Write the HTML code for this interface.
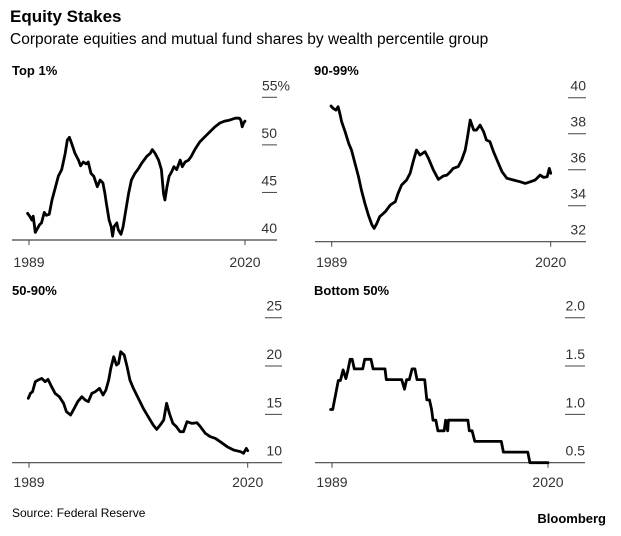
<!DOCTYPE html>
<html><head><meta charset="utf-8">
<style>
html,body{margin:0;padding:0;background:#fff;}
svg{display:block;font-family:"Liberation Sans",sans-serif;}
</style></head>
<body>
<svg id="chart" width="621" height="536" viewBox="0 0 621 536">
<text x="10" y="22" font-size="17" font-weight="bold" fill="#000">Equity Stakes</text>
<text x="10" y="44" font-size="15.5" fill="#000">Corporate equities and mutual fund shares by wealth percentile group</text>
<text x="12" y="517" font-size="12" fill="#000">Source: Federal Reserve</text>
<text x="606" y="523" font-size="13" font-weight="bold" text-anchor="end" fill="#000">Bloomberg</text>
</svg>
<script>
const top1Years=[1988.8,1989.1,1989.4,1989.6,1989.9,1990.2,1990.5,1990.8,1991.2,1991.5,1991.9,1992.3,1992.7,1993.2,1993.7,1994.2,1994.5,1994.8,1995.1,1995.6,1996.1,1996.4,1996.8,1997.2,1997.5,1997.9,1998.3,1998.8,1999.2,1999.6,1999.9,2000.1,2000.5,2000.8,2001.0,2001.2,2001.6,2001.8,2002.2,2002.5,2002.9,2003.3,2003.7,2004.2,2004.7,2005.2,2005.5,2005.9,2006.4,2006.7,2007.1,2007.6,2008.0,2008.3,2008.5,2008.8,2009.1,2009.5,2009.8,2010.2,2010.7,2011.0,2011.4,2011.9,2012.3,2012.8,2013.5,2014.3,2015.0,2015.7,2016.4,2017.1,2017.8,2018.6,2019.2,2019.4,2019.6,2019.8,2020.0];
const top1Values=[42.8,42.5,42.1,42.5,40.8,41.2,41.6,41.8,42.9,42.6,42.7,44.2,45.3,46.7,47.4,49.1,50.5,50.8,50.2,49.1,48.4,47.8,48.2,48.0,48.2,47.0,46.7,45.6,46.3,46.0,44.9,43.9,42.1,41.4,40.4,41.4,41.8,41.1,40.6,41.4,43.2,44.9,46.3,47.0,47.5,48.1,48.4,48.8,49.1,49.5,49.1,48.4,47.4,44.9,44.2,45.6,46.7,47.2,47.7,47.4,48.4,47.7,48.2,48.4,48.8,49.5,50.3,50.9,51.4,51.9,52.3,52.5,52.6,52.8,52.8,52.6,51.9,52.3,52.5];
const p90Years=[1988.9,1989.2,1989.6,1989.9,1990.2,1990.4,1990.9,1991.4,1991.8,1992.3,1992.8,1993.2,1993.7,1994.2,1994.7,1995.0,1995.4,1995.8,1996.6,1997.3,1998.0,1998.4,1998.9,1999.6,2000.1,2000.6,2001.0,2001.5,2002.2,2002.7,2003.4,2004.1,2004.8,2005.3,2005.8,2006.2,2006.9,2007.4,2007.9,2008.2,2008.6,2009.1,2009.5,2010.0,2010.5,2010.9,2011.4,2011.9,2012.4,2013.1,2013.8,2014.7,2015.7,2016.4,2017.1,2017.8,2018.5,2019.0,2019.5,2019.8,2020.0];
const p90Values=[39.54,39.41,39.31,39.5,39.04,38.67,38.11,37.46,37.09,36.35,35.61,34.87,34.13,33.48,32.93,32.74,33.02,33.39,33.67,34.04,34.22,34.69,35.15,35.43,35.8,36.54,37.09,36.81,37.0,36.63,35.98,35.46,35.65,35.7,35.89,36.07,36.17,36.54,37.09,37.74,38.76,38.2,38.2,38.48,38.11,37.65,37.56,37.0,36.54,35.89,35.52,35.43,35.33,35.24,35.33,35.43,35.7,35.57,35.61,36.07,35.8];
const p50Years=[1988.9,1989.2,1989.5,1989.9,1990.3,1990.8,1991.3,1991.7,1992.2,1992.7,1993.3,1993.9,1994.3,1994.9,1995.4,1995.9,1996.5,1997.0,1997.4,1997.9,1998.4,1999.0,1999.5,1999.9,2000.3,2000.6,2001.0,2001.4,2001.7,2002.0,2002.5,2002.9,2003.3,2003.8,2004.5,2005.2,2005.9,2006.6,2007.1,2007.6,2008.1,2008.5,2008.9,2009.4,2009.9,2010.4,2010.9,2011.4,2012.1,2012.8,2013.3,2014.0,2014.7,2015.4,2016.1,2017.1,2018.0,2019.0,2019.4,2019.8,2020.0];
const p50Values=[16.66,17.17,17.34,18.38,18.55,18.72,18.38,18.62,17.86,17.17,16.83,16.14,15.28,14.93,15.62,16.31,16.83,16.48,16.31,17.17,17.34,17.69,17.0,17.52,18.55,19.76,20.97,20.1,20.28,21.48,21.14,19.93,18.55,17.69,16.66,15.62,14.76,13.9,13.45,13.9,14.41,16.14,15.1,14.07,13.72,13.21,13.21,14.24,14.07,14.14,13.72,13.03,12.69,12.52,12.17,11.66,11.31,11.14,10.97,11.48,11.24];
const botYears=[1988.8,1989.1,1989.5,1989.9,1990.2,1990.6,1991.0,1991.3,1991.6,1991.9,1992.2,1993.4,1993.7,1994.6,1994.9,1996.6,1996.8,1999.0,1999.4,1999.7,2000.1,2000.5,2000.9,2001.2,2002.3,2002.6,2003.0,2003.3,2003.5,2003.9,2004.2,2005.1,2005.3,2005.6,2005.7,2008.5,2008.7,2009.1,2009.5,2013.3,2013.6,2017.1,2017.4,2020.0];
const botValues=[1.05,1.05,1.2,1.35,1.35,1.46,1.37,1.46,1.57,1.57,1.47,1.47,1.57,1.57,1.47,1.47,1.36,1.36,1.26,1.36,1.36,1.47,1.47,1.36,1.36,1.15,1.15,1.05,0.94,0.94,0.83,0.83,0.94,0.83,0.94,0.94,0.83,0.83,0.72,0.72,0.61,0.61,0.5,0.5];
const top1Ticks=["40","45","50","55%"], top1TickVals=[40,45,50,55];
const p90Ticks=["32","34","36","38","40"], p90TickVals=[32,34,36,38,40];
const p50Ticks=["10","15","20","25"], p50TickVals=[10,15,20,25];
const botTicks=["0.5","1.0","1.5","2.0"], botTickVals=[0.5,1.0,1.5,2.0];
const yearLabels=["1989","2020"], yearVals=[1989,2020];

const NS="http://www.w3.org/2000/svg";
const svg=document.getElementById('chart');
function mk(tag,attrs,parent){const e=document.createElementNS(NS,tag);for(const k in attrs)e.setAttribute(k,attrs[k]);(parent||svg).appendChild(e);return e;}

const panels=[
 {key:'top-1',title:'Top 1%',titleX:12,titleY:75,xa:29,xb:245,ymin:40,ymax:55,yb:240,yt:97.3,axL:12,axR:277,gL:262,years:top1Years,vals:top1Values,ticks:top1Ticks,tv:top1TickVals,yl:267,step:false},
 {key:'90-99',title:'90-99%',titleX:314,titleY:75,xa:331.7,xb:550.7,ymin:32,ymax:40,yb:241.7,yt:97.7,axL:315,axR:586,gL:568,years:p90Years,vals:p90Values,ticks:p90Ticks,tv:p90TickVals,yl:267,step:false},
 {key:'50-90',title:'50-90%',titleX:12,titleY:295,xa:29,xb:247.7,ymin:10,ymax:25,yb:462.7,yt:317.7,axL:12,axR:282,gL:265,years:p50Years,vals:p50Values,ticks:p50Ticks,tv:p50TickVals,yl:487,step:false},
 {key:'bottom-50',title:'Bottom 50%',titleX:314,titleY:295,xa:332,xb:548,ymin:0.5,ymax:2.0,yb:462.7,yt:317.7,axL:315,axR:585,gL:565,years:botYears,vals:botValues,ticks:botTicks,tv:botTickVals,yl:487,step:true}
];
panels.forEach(p=>{
 const g=mk('g',{});
 
 
 const xs=y=>p.xa+(y-1989)/(2020-1989)*(p.xb-p.xa);
 const ys=v=>p.yb-(v-p.ymin)/(p.ymax-p.ymin)*(p.yb-p.yt);
 const t=mk('text',{x:p.titleX,y:p.titleY,'font-size':13,'font-weight':'bold',fill:'#000'},g);
 t.textContent=p.title;
 
 
 p.tv.forEach((v,i)=>{
  const y=ys(v);
  if(i>0){const l=mk('line',{x1:p.gL,x2:p.axR,y1:y,y2:y,stroke:'#444','stroke-width':1},g);
   
   }
  const lab=p.ticks[i];
  const tx=mk('text',{x:lab.endsWith('%')?p.axR+13:p.axR,y:y-7,'font-size':14,'text-anchor':'end',fill:'#333'},g);
  tx.textContent=lab;
  
  
 });
 const ax=mk('line',{x1:p.axL,x2:p.axR,y1:p.yb,y2:p.yb,stroke:'#444','stroke-width':1.2},g);
 
 
 yearVals.forEach((yr,i)=>{
  const x=xs(yr);
  const tk=mk('line',{x1:x,x2:x,y1:p.yb,y2:p.yb+5,stroke:'#444','stroke-width':1},g);
  
  
  const tl=mk('text',{x:x,y:p.yl,'font-size':14,'text-anchor':'middle',fill:'#333'},g);
  tl.textContent=yearLabels[i];
  
  
 });
 let d='';
 p.years.forEach((yr,i)=>{d+=(i?'L':'M')+xs(yr).toFixed(1)+' '+ys(p.vals[i]).toFixed(1);});
 const path=mk('path',{d:d,fill:'none',stroke:'#000','stroke-width':2.8,'stroke-linejoin':'round','stroke-linecap':'round'},g);
 
 
});
</script>
</body></html>
